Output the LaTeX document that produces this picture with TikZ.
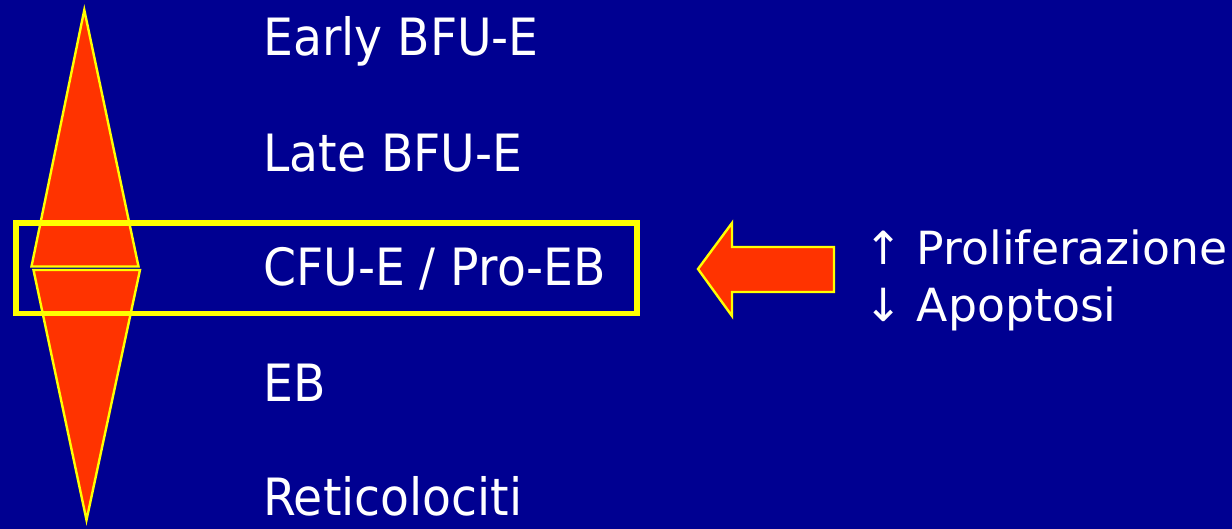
\documentclass[tikz,border=0pt]{standalone}
\usepackage{fontspec}
\setmainfont{DejaVu Sans}[FakeStretch=0.92]
\newfontfamily\sidefont{DejaVu Sans}
\definecolor{bgblue}{RGB}{0,0,145}
\definecolor{redorange}{RGB}{255,51,0}
\definecolor{yel}{RGB}{255,255,0}
\tikzset{
  lbl/.style={text=white, inner sep=0pt, anchor=base west, font=\fontsize{51.4}{60}\selectfont},
  side/.style={text=white, inner sep=0pt, anchor=base west, font=\sidefont\fontsize{45.7}{54}\selectfont},
  tri/.style={fill=redorange, draw=yel, line width=2.4pt, line join=miter},
  frame/.style={draw=yel, line width=5.5pt},
}
\begin{document}
\begin{tikzpicture}[x=1pt,y=-1pt]
\fill[bgblue] (0,0) rectangle (1232,529);
\useasboundingbox (0,0) rectangle (1232,529);
% triangles
\filldraw[tri] (84.3,10) -- (138.5,266.5) -- (31.5,266.5) -- cycle;
\filldraw[tri] (33.5,270) -- (140,270) -- (86.5,520) -- cycle;
% frame
\draw[frame] (16,223) rectangle (637,313.5);
% big arrow
\filldraw[tri] (698,269) -- (732,223) -- (732,247) -- (834,247) -- (834,292) -- (732,292) -- (732,316) -- cycle;
% labels
\node[lbl] (early) at (263,56) {Early BFU-E};
\node[lbl] (late) at (263,171.7) {Late BFU-E};
\node[lbl] (cfu) at (263,285.5) {CFU-E / Pro-EB};
\node[lbl] (eb) at (263,401.7) {EB};
\node[lbl] (reti) at (263,515.7) {Reticolociti};
\node[side] (prolif) at (864,265) {↑ Proliferazione};
\node[side] (apop) at (864,321.7) {↓ Apoptosi};
\end{tikzpicture}
\end{document}
